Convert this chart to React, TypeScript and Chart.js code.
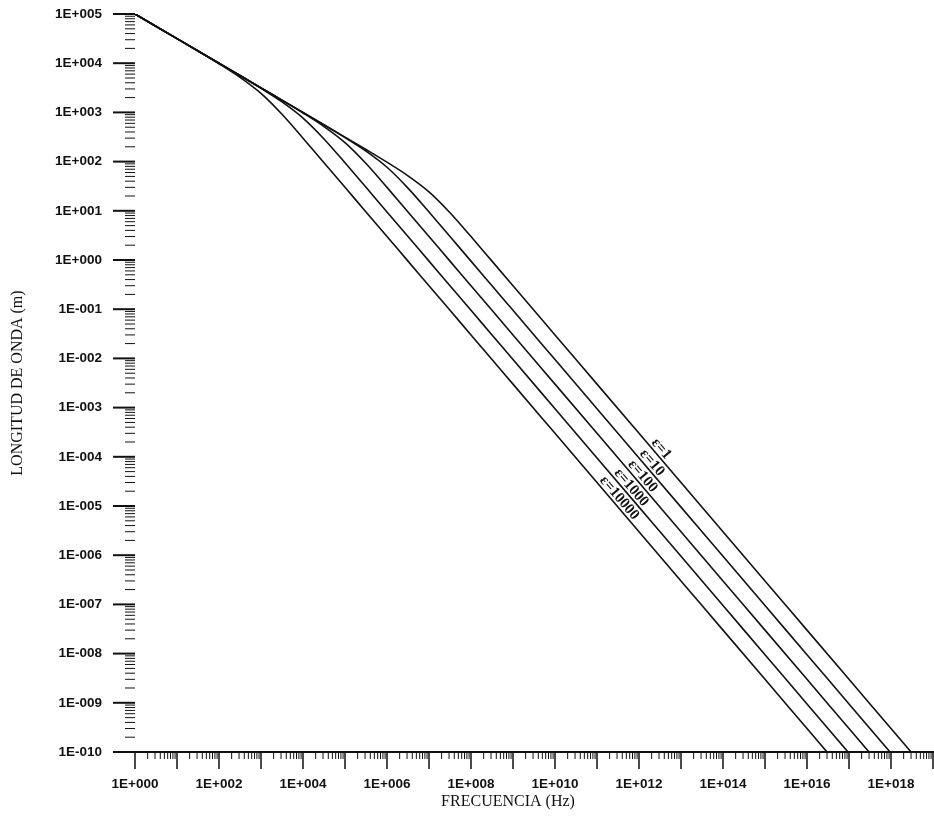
import React, { useEffect, useRef } from "react";
import { Chart, registerables } from "chart.js";

Chart.register(...registerables);

// Frequency samples (Hz)
const FREQUENCY_HZ = [
  1, 1e1, 1e2, 3.162e2, 1e3, 3.162e3, 1e4, 3.162e4, 1e5, 3.162e5, 1e6, 3.162e6,
  1e7, 3.162e7, 1e8, 3.162e8, 1e9, 1e10, 1e11, 1e12, 1e13, 1e14, 1e15, 1e16,
  1e17, 1e18, 1e19,
];

// Wavelength (m) for each relative permittivity
const WAVE_EPS_1 = [
  1e5, 3.16e4, 1e4, 5.62e3, 3.16e3, 1.78e3, 1.0e3, 562, 315, 176, 97.3, 51.5,
  24.3, 9.15, 2.99, 0.948, 0.3, 3.0e-2, 3.0e-3, 3.0e-4, 3.0e-5, 3.0e-6, 3.0e-7,
  3.0e-8, 3.0e-9, 3.0e-10, 3.0e-11,
];
const WAVE_EPS_10 = [
  1e5, 3.16e4, 1e4, 5.62e3, 3.16e3, 1.78e3, 997, 557, 308, 163, 76.7, 28.9,
  9.45, 3.0, 0.948, 0.3, 9.48e-2, 9.48e-3, 9.48e-4, 9.48e-5, 9.48e-6, 9.48e-7,
  9.48e-8, 9.48e-9, 9.48e-10, 9.48e-11, 9.48e-12,
];
const WAVE_EPS_100 = [
  1e5, 3.16e4, 1e4, 5.62e3, 3.15e3, 1.76e3, 973, 515, 243, 91.5, 29.9, 9.48,
  3.0, 0.948, 0.3, 9.48e-2, 3.0e-2, 3.0e-3, 3.0e-4, 3.0e-5, 3.0e-6, 3.0e-7,
  3.0e-8, 3.0e-9, 3.0e-10, 3.0e-11, 3.0e-12,
];
const WAVE_EPS_1000 = [
  1e5, 3.16e4, 9.98e3, 5.58e3, 3.08e3, 1.63e3, 767, 289, 94.5, 30.0, 9.48, 3.0,
  0.948, 0.3, 9.48e-2, 3.0e-2, 9.48e-3, 9.48e-4, 9.48e-5, 9.48e-6, 9.48e-7,
  9.48e-8, 9.48e-9, 9.48e-10, 9.48e-11, 9.48e-12, 9.48e-13,
];
const WAVE_EPS_10000 = [
  1e5, 3.15e4, 9.73e3, 5.15e3, 2.43e3, 915, 299, 94.8, 30.0, 9.48, 3.0, 0.948,
  0.3, 9.48e-2, 3.0e-2, 9.48e-3, 3.0e-3, 3.0e-4, 3.0e-5, 3.0e-6, 3.0e-7, 3.0e-8,
  3.0e-9, 3.0e-10, 3.0e-11, 3.0e-12, 3.0e-13,
];

const SERIES = [WAVE_EPS_1, WAVE_EPS_10, WAVE_EPS_100, WAVE_EPS_1000, WAVE_EPS_10000];
const SERIES_LABELS = ["ε=1", "ε=10", "ε=100", "ε=1000", "ε=10000"];

// Where each curve label sits (data coordinates on its curve)
const LABEL_FREQ = [1.7e12, 9.0e11, 4.7e11, 2.2e11, 1.0e11];
const LABEL_WAVE = [1.76e-4, 1.05e-4, 6.4e-5, 4.3e-5, 3.0e-5];

// Axis decades
const X_DECADES = [0, 1, 2, 3, 4, 5, 6, 7, 8, 9, 10, 11, 12, 13, 14, 15, 16, 17, 18, 19];
const Y_DECADES = [-10, -9, -8, -7, -6, -5, -4, -3, -2, -1, 0, 1, 2, 3, 4, 5];

const X_TITLE = "FRECUENCIA (Hz)";
const Y_TITLE = "LONGITUD DE ONDA (m)";

function sci(v: number): string {
  const e = Math.round(Math.log10(v));
  const s = e < 0 ? "-" : "+";
  return "1E" + s + String(Math.abs(e)).padStart(3, "0");
}

const INK = "#111";

const marksPlugin = {
  id: "marks",
  afterDraw(chart: any) {
    const { ctx, chartArea: a, scales } = chart;
    const x = scales.x;
    const y = scales.y;
    ctx.save();
    ctx.strokeStyle = INK;
    ctx.fillStyle = INK;

    // x axis line
    ctx.lineWidth = 2;
    ctx.beginPath();
    ctx.moveTo(a.left - 22, a.bottom);
    ctx.lineTo(a.right + 1, a.bottom);
    ctx.stroke();

    // x ticks
    X_DECADES.forEach((k) => {
      const px = x.getPixelForValue(Math.pow(10, k));
      ctx.lineWidth = 1.5;
      ctx.beginPath();
      ctx.moveTo(px, a.bottom);
      ctx.lineTo(px, a.bottom + 17);
      ctx.stroke();
      if (k < 19) {
        ctx.lineWidth = 1;
        for (let m = 2; m <= 9; m++) {
          const pm = x.getPixelForValue(m * Math.pow(10, k));
          ctx.beginPath();
          ctx.moveTo(pm, a.bottom);
          ctx.lineTo(pm, a.bottom + 7);
          ctx.stroke();
        }
      }
    });

    // y ticks
    Y_DECADES.forEach((k) => {
      const py = y.getPixelForValue(Math.pow(10, k));
      ctx.lineWidth = 2;
      ctx.beginPath();
      ctx.moveTo(a.left - 22, py);
      ctx.lineTo(a.left, py);
      ctx.stroke();
      if (k < 5) {
        ctx.lineWidth = 1;
        for (let m = 2; m <= 9; m++) {
          const pm = y.getPixelForValue(m * Math.pow(10, k));
          ctx.beginPath();
          ctx.moveTo(a.left - 10, pm);
          ctx.lineTo(a.left, pm);
          ctx.stroke();
        }
      }
    });

    // curve labels
    const dx = x.getPixelForValue(1e13) - x.getPixelForValue(1e12);
    const dy = y.getPixelForValue(1e-5) - y.getPixelForValue(1e-4);
    const ang = Math.atan2(dy, dx);
    ctx.font = 'bold 15px "Liberation Serif"';
    ctx.textAlign = "left";
    ctx.textBaseline = "alphabetic";
    SERIES_LABELS.forEach((t, i) => {
      const px = x.getPixelForValue(LABEL_FREQ[i]);
      const py = y.getPixelForValue(LABEL_WAVE[i]);
      ctx.save();
      ctx.translate(px, py);
      ctx.rotate(ang);
      ctx.fillText(t, 0, -3);
      ctx.restore();
    });

    // x axis title
    ctx.font = '16px "Liberation Serif"';
    ctx.textAlign = "center";
    ctx.textBaseline = "middle";
    ctx.fillText(X_TITLE, (a.left + a.right) / 2 - 26, chart.height - 19);

    ctx.restore();
  },
};

export default function App() {
  const ref = useRef<HTMLCanvasElement | null>(null);

  useEffect(() => {
    if (!ref.current) return;
    const chart = new Chart(ref.current, {
      type: "line",
      data: {
        datasets: SERIES.map((arr, i) => ({
          label: SERIES_LABELS[i],
          data: FREQUENCY_HZ.map((f, j) => ({ x: f, y: arr[j] })),
          borderColor: INK,
          borderWidth: 1.6,
          pointRadius: 0,
          fill: false,
          cubicInterpolationMode: "monotone" as const,
        })),
      },
      options: {
        responsive: false,
        animation: false,
        layout: { autoPadding: false, padding: { top: 14, right: 1, left: 0, bottom: 0 } },
        plugins: {
          legend: { display: false },
          tooltip: { enabled: false },
        },
        scales: {
          x: {
            type: "logarithmic",
            min: 1,
            max: 1e19,
            grid: { display: false, drawTicks: true, tickLength: 24 },
            border: { display: false },
            afterBuildTicks: (scale: any) => {
              scale.ticks = X_DECADES.map((k) => ({ value: Math.pow(10, k) }));
            },
            afterFit: (scale: any) => {
              scale.height = 69;
            },
            ticks: {
              autoSkip: false,
              maxRotation: 0,
              padding: 0,
              color: INK,
              font: { family: '"Liberation Sans"', size: 13.5, weight: "bold" },
              callback: (v: any) => {
                const e = Math.round(Math.log10(Number(v)));
                return e % 2 === 0 && e < 19 ? sci(Number(v)) : "";
              },
            },
            title: { display: false },
          },
          y: {
            type: "logarithmic",
            min: 1e-10,
            max: 1e5,
            grid: { display: false, drawTicks: true, tickLength: 33 },
            border: { display: false },
            afterBuildTicks: (scale: any) => {
              scale.ticks = Y_DECADES.map((k) => ({ value: Math.pow(10, k) }));
            },
            afterFit: (scale: any) => {
              scale.width = 135;
            },
            ticks: {
              autoSkip: false,
              padding: 0,
              color: INK,
              font: { family: '"Liberation Sans"', size: 13.5, weight: "bold" },
              callback: (v: any) => sci(Number(v)),
            },
            title: {
              display: true,
              text: Y_TITLE,
              color: INK,
              font: { family: '"Liberation Serif"', size: 16 },
              padding: { top: 8, bottom: 0 },
            },
          },
        },
      },
      plugins: [marksPlugin],
    });
    return () => chart.destroy();
  }, []);

  return (
    <canvas
      ref={ref}
      width={934}
      height={821}
      style={{ position: "fixed", left: 0, top: 0, display: "block" }}
    />
  );
}
